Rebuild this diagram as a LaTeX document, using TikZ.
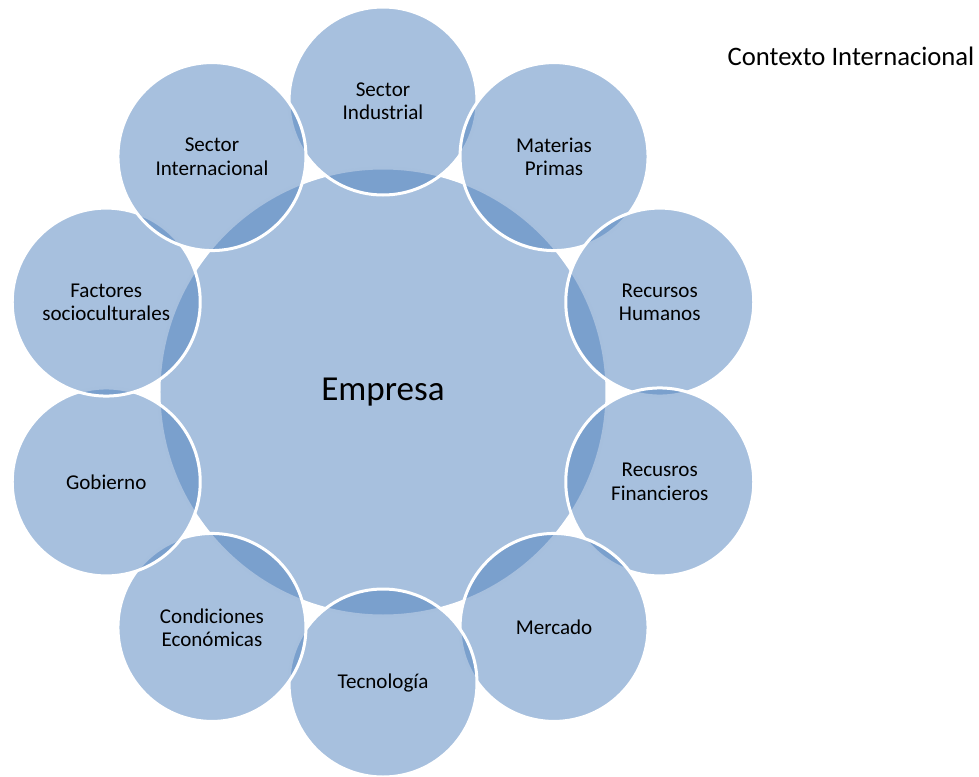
\documentclass[tikz,border=0pt]{standalone}
\usepackage{fontspec}
\setmainfont{Carlito}
\definecolor{accentblue}{RGB}{79,129,189}

\begin{document}
\begin{tikzpicture}[x=0.75pt,y=0.75pt,
  bubble/.style={circle, fill=accentblue, fill opacity=0.5, text opacity=1,
    draw=white, line width=2.25pt, inner sep=0pt, minimum size=141pt,
    align=center, font=\fontsize{15.8}{17.5}\selectfont},
  core/.style={bubble, minimum size=336pt, font=\fontsize{26.3}{30}\selectfont}]

% Page frame
\useasboundingbox (-383,-384) rectangle (596,392);

% Centre
\node[core] (empresa) at (0,0) {Empresa};

% Ring, clockwise from the top
\node[bubble] (industrial) at (90:291) {Sector\\Industrial};
\node[bubble] (materias) at (54:291) {Materias\\Primas};
\node[bubble] (humanos) at (18:291) {Recursos\\Humanos};
\node[bubble] (financieros) at (-18:291) {Recusros\\Financieros};
\node[bubble] (mercado) at (-54:291) {Mercado};
\node[bubble] (tecnologia) at (-90:291) {Tecnología};
\node[bubble] (condiciones) at (-126:291) {Condiciones\\Económicas};
\node[bubble] (gobierno) at (-162:291) {Gobierno};
\node[bubble] (factores) at (162:291) {Factores\\socioculturales};
\node[bubble] (internacional) at (126:291) {Sector\\Internacional};

% Side label
\node[anchor=base, font=\fontsize{20}{24}\selectfont] (contexto) at (468,327)
  {Contexto Internacional};

\end{tikzpicture}
\end{document}
